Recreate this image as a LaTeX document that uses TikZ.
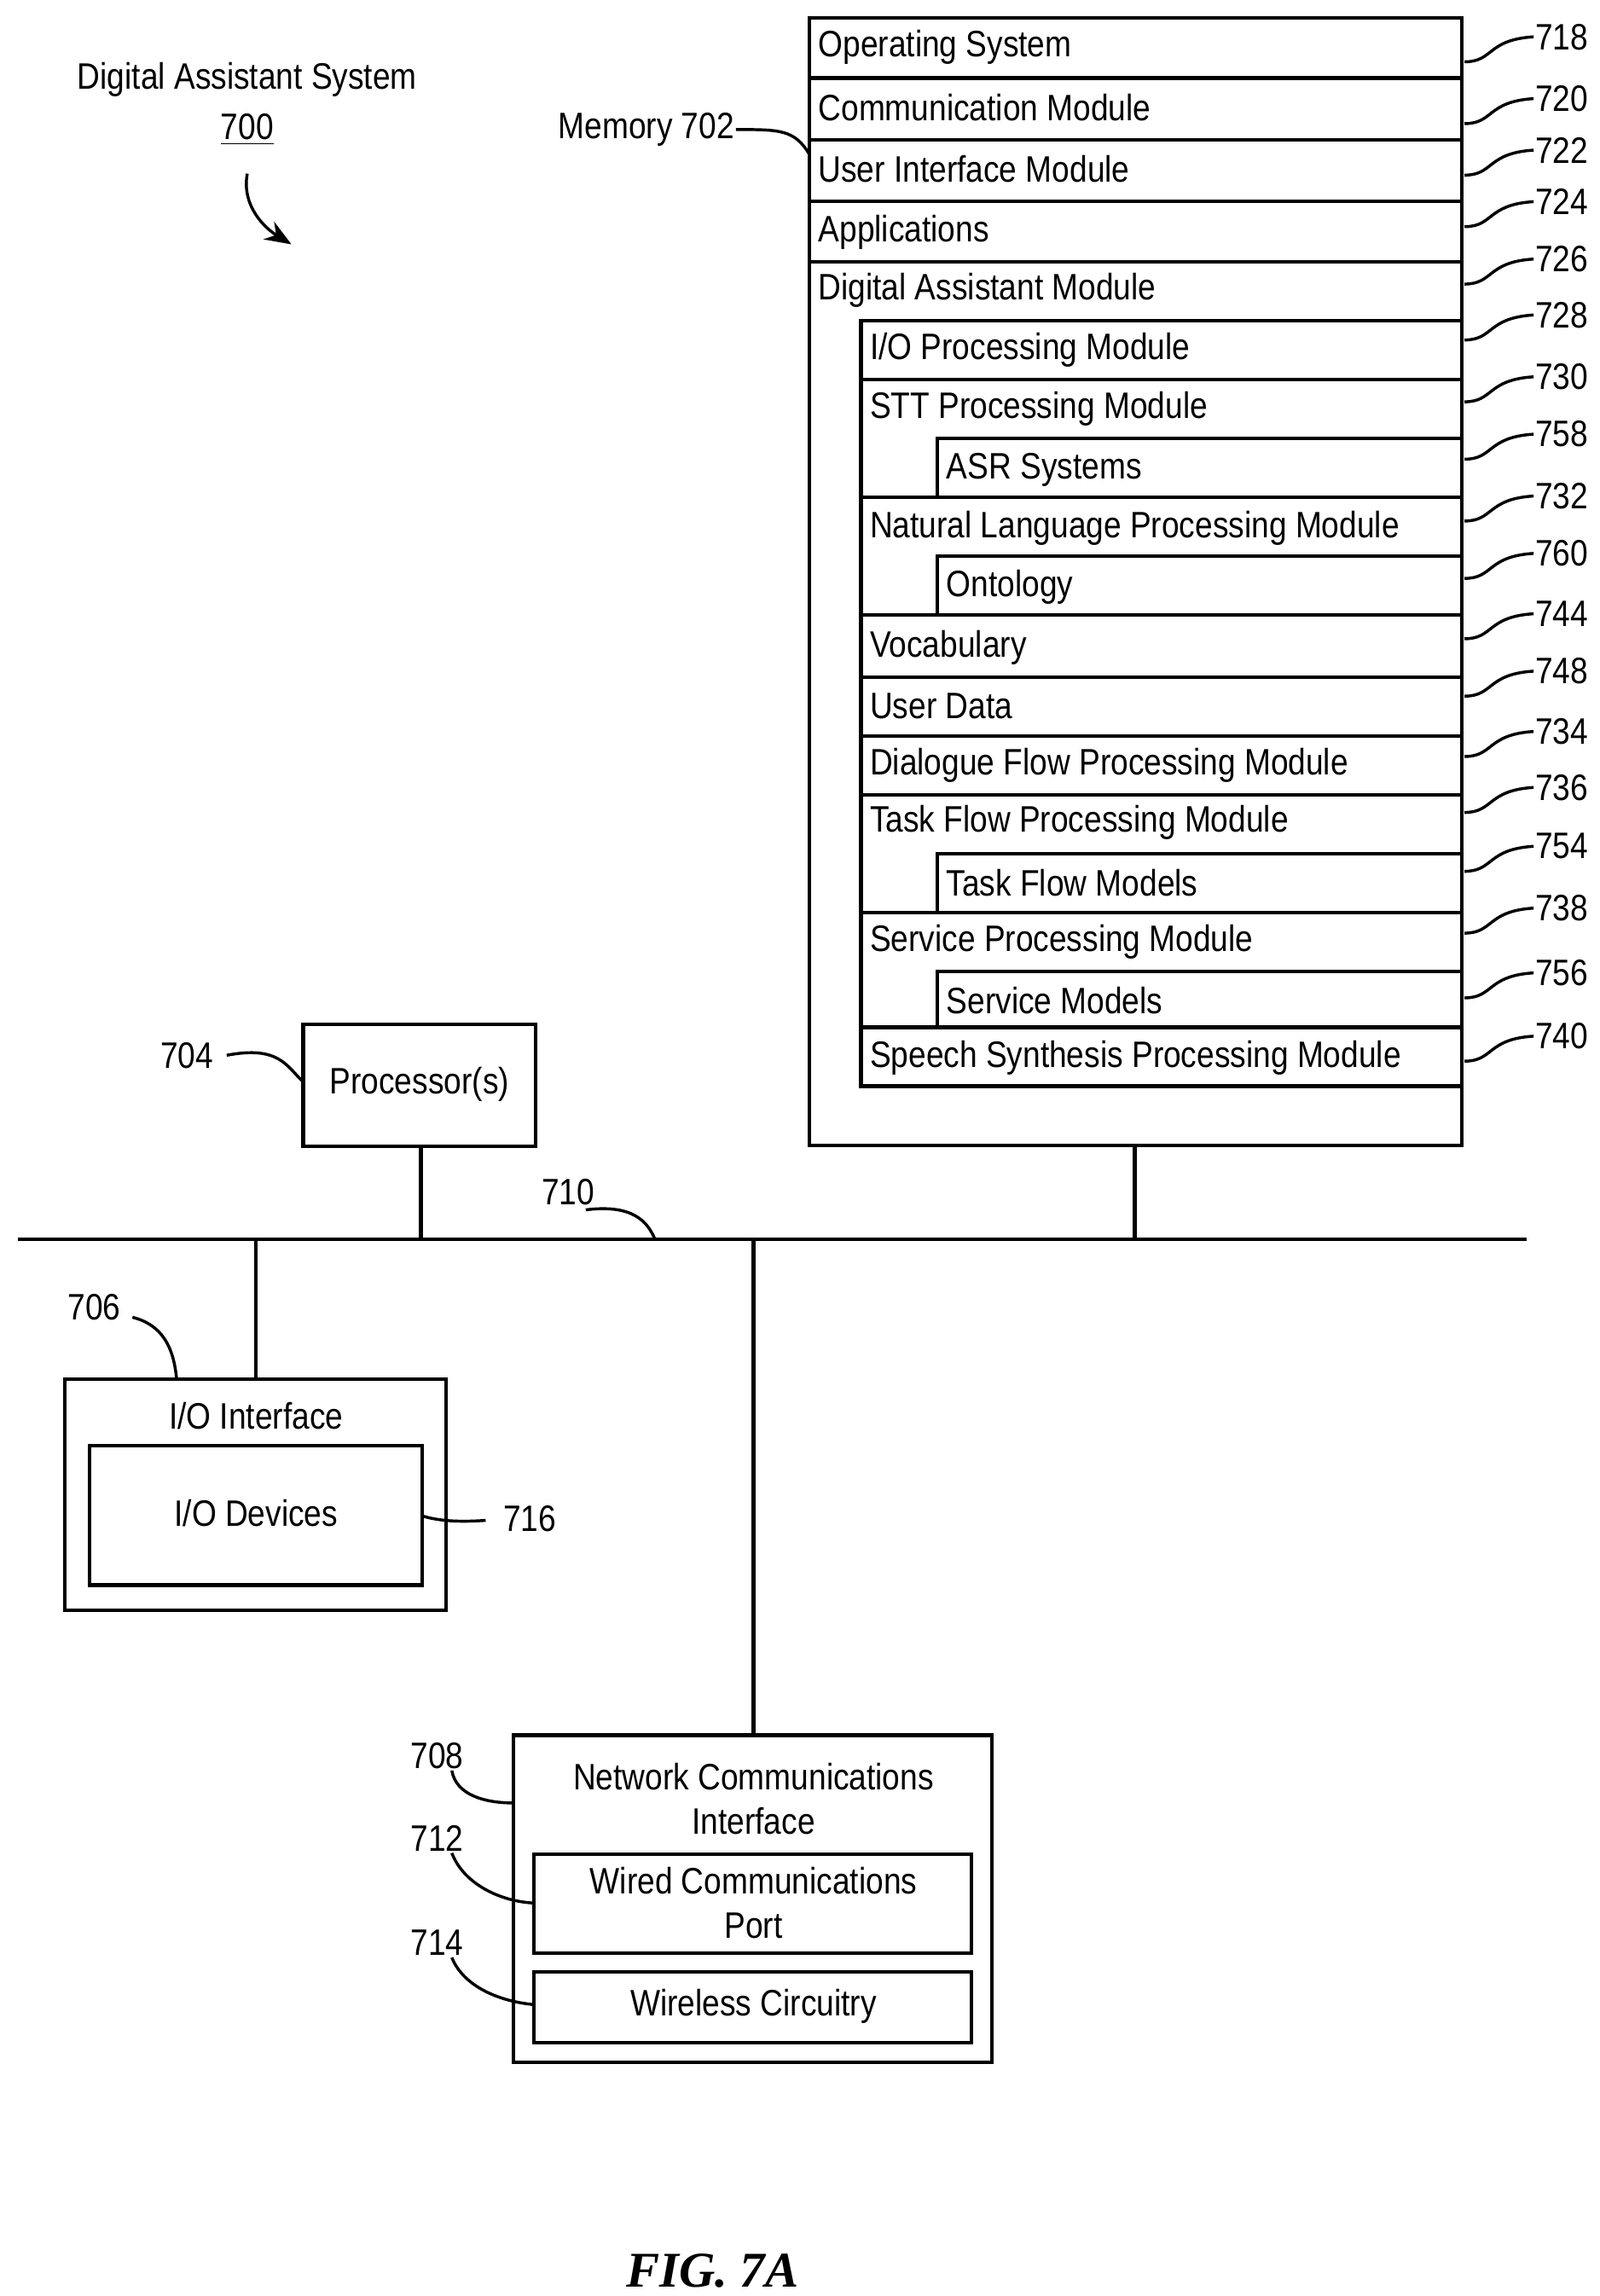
\documentclass[tikz,border=0pt]{standalone}
\usepackage{fontspec}
\setmainfont{Liberation Sans}[FakeStretch=0.86]
\newfontfamily\figfont{Liberation Serif}
\usetikzlibrary{arrows.meta}
\begin{document}
\begin{tikzpicture}[x=0.5pt,y=-0.5pt,line width=1.1pt,
  bx/.style={draw,line width=1.2pt},
  t/.style={font=\fontsize{12.5}{15}\selectfont,inner sep=0pt},
  rowlab/.style={t,anchor=west},
  num/.style={t,anchor=west},
  lead/.style={line width=1pt}]
\useasboundingbox (0,0) rectangle (1087,1560);
% labels
\node[t] (das) at (168,54) {Digital Assistant System};
\node[t] (n700) at (168,88) {\underline{700}};
\draw[lead,-{Stealth[length=9pt,width=7pt]}] (168,118) .. controls (164,140) and (180,155) .. (198,166);
% memory
\draw[bx] (550,12) rectangle (993,778);
\node[t,anchor=east] (mem) at (500,88) {Memory 702};
\draw[lead] (mem.east) .. controls (530,88) and (540,88) .. (550,105);
\foreach \y in {53,95,137,178}{\draw[bx] (550,\y) -- (993,\y);}
\draw[bx] (585,218) rectangle (993,738);
\foreach \y in {258,338,418,460,500,540,620,698}{\draw[bx] (585,\y) -- (993,\y);}
\foreach \a/\b in {298/338,378/418,580/620,660/698}{\draw[bx] (993,\a) -| (637,\b) -- (993,\b);}
\foreach \y/\s in {32/Operating System,73/Communication Module,115/User Interface Module,158/Applications,197/Digital Assistant Module}
  {\node[rowlab] at (555,\y) {\s};}
\foreach \y/\s in {238/I\slash O Processing Module,278/STT Processing Module,359/Natural Language Processing Module,440/Vocabulary,480/User Data,520/Dialogue Flow Processing Module,559/Task Flow Processing Module,640/Service Processing Module,719/Speech Synthesis Processing Module}
  {\node[rowlab] at (590,\y) {\s};}
\foreach \y/\s in {319/ASR Systems,399/Ontology,600/Task Flow Models,680/Service Models}
  {\node[rowlab] at (642,\y) {\s};}
\foreach \y/\n in {25/718,67/720,102/722,137/724,176/726,214/728,256/730,295/758,337/732,376/760,417/744,456/748,497/734,535/736,575/754,617/738,661/756,704/740}
  {\node[num] (l\n) at (1042,\y) {\n};
   \draw[lead] (995,\y+17) .. controls (1015,\y+17) and (1010,\y+2) .. (l\n.west);}
% processor
\draw[bx] (206,696) rectangle (364,779);
\node[t] (proc) at (285,737) {Processor(s)};
\node[t] (n704) at (127,717) {704};
\draw[lead] (n704.east)++(8,0) .. controls (190,710) and (195,725) .. (206,735);
% bus
\draw[bx] (12,842) -- (1037,842);
\draw[bx] (286,779) -- (286,842);
\draw[bx] (771,778) -- (771,842);
\draw[bx] (174,842) -- (174,937);
\draw[bx] (512,842) -- (512,1179);
\node[t] (n710) at (386,810) {710};
\draw[lead] (398,822) .. controls (430,818) and (440,830) .. (445,842);
% IO
\draw[bx] (44,937) rectangle (303,1094);
\draw[bx] (61,982) rectangle (287,1077);
\node[t] at (174,962) {I/O Interface};
\node[t] at (174,1028) {I/O Devices};
\node[t] (n716) at (360,1032) {716};
\draw[lead] (287,1030) .. controls (300,1034) and (315,1034) .. (330,1033);
\node[t] (n706) at (64,888) {706};
\draw[lead] (90,895) .. controls (110,900) and (118,915) .. (120,937);
% network
\draw[bx] (349,1179) rectangle (674,1401);
\node[t,align=center] at (512,1222) {Network Communications\\Interface};
\draw[bx] (363,1260) rectangle (660,1327);
\node[t,align=center] at (512,1293) {Wired Communications\\Port};
\draw[bx] (363,1340) rectangle (660,1388);
\node[t] at (512,1363) {Wireless Circuitry};
\node[t] at (297,1193) {708};
\draw[lead] (307,1203) .. controls (310,1220) and (330,1225) .. (349,1225);
\node[t] at (297,1249) {712};
\draw[lead] (307,1259) .. controls (315,1280) and (340,1292) .. (363,1293);
\node[t] at (297,1320) {714};
\draw[lead] (307,1330) .. controls (315,1350) and (340,1360) .. (363,1362);
\node[font=\figfont\bfseries\itshape\fontsize{17}{20}\selectfont] at (484,1543) {FIG. 7A};
\end{tikzpicture}
\end{document}
